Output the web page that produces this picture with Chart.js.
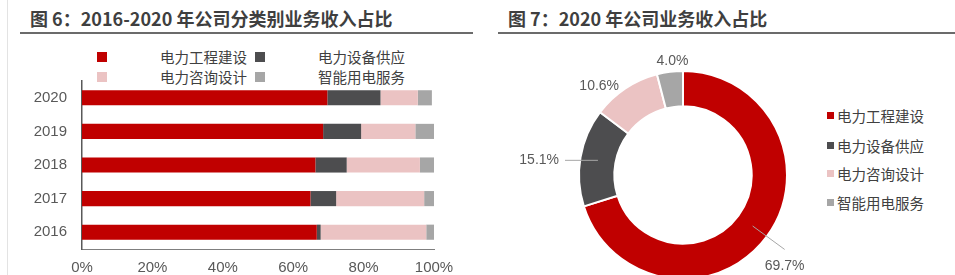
<!DOCTYPE html>
<html>
<head>
<meta charset="utf-8">
<script src="https://cdn.jsdelivr.net/npm/chart.js@4.4.1/dist/chart.umd.min.js"></script>
<style>
  html, body { margin:0; padding:0; width:955px; height:275px; overflow:hidden; background:#fff; }
  body { position:relative; font-family:"Noto Sans CJK SC","Liberation Sans",sans-serif; color:#404040; }
  .title { position:absolute; top:5px; font-size:18px; font-weight:bold; color:#3f3f3f; white-space:nowrap; line-height:26px; }
  .rule { position:absolute; top:32px; height:2px; background:#6b6b6b; }
  .vline { position:absolute; left:7px; top:0; width:1px; height:275px; background:#e3e3e3; }
  .lg { position:absolute; font-size:14.5px; color:#404040; white-space:nowrap; line-height:18px; }
  .sq { position:absolute; }
  #boxBar { position:absolute; left:0; top:80px; width:480px; height:195px; }
  #boxPie { position:absolute; left:520px; top:40px; width:326px; height:240px; }
</style>
</head>
<body>
<div class="vline"></div>
<div class="title" style="left:30px;">图 6：2016-2020 年公司分类别业务收入占比</div>
<div class="rule" style="left:20px;width:453px;"></div>
<div class="title" style="left:508px;">图 7：2020 年公司业务收入占比</div>
<div class="rule" style="left:498px;width:457px;"></div>

<div id="legBar"></div>
<div id="legPie"></div>

<div id="boxBar"><canvas id="canvas_bar"></canvas></div>
<div id="boxPie"><canvas id="canvas_pie"></canvas></div>

<script>
// ---- data ----
var years = ['2016', '2017', '2018', '2019', '2020'];
var seriesNames = ['电力工程建设', '电力设备供应', '电力咨询设计', '智能用电服务'];
var engineering = [66.7, 64.9, 66.3, 68.5, 69.7];
var equipment   = [1.1, 7.3, 8.9, 10.8, 15.1];
var consulting  = [30.0, 25.0, 20.8, 15.4, 10.6];
var smartPower  = [2.2, 2.8, 4.0, 5.3, 4.0];
var share2020   = [69.7, 15.1, 10.6, 4.0];
var xTicks = [0, 20, 40, 60, 80, 100];

var colors = ['#C00000', '#4D4D4F', '#EBC3C3', '#A6A6A6'];
var txt = '#595959';

// ---- legends (html) ----
var legBar = document.getElementById('legBar');
var legPos = [[97, 52, 160, 48], [255, 52, 318, 48], [97, 72, 160, 68], [255, 72, 318, 68]];
for (var i in seriesNames) {
  var p = legPos[i];
  legBar.innerHTML += '<div class="sq" style="left:' + p[0] + 'px;top:' + p[1] + 'px;width:10px;height:10px;background:' + colors[i] + '"></div>' +
    '<div class="lg" style="left:' + p[2] + 'px;top:' + p[3] + 'px">' + seriesNames[i] + '</div>';
}
var legPie = document.getElementById('legPie');
var pieRows = [116, 146, 174, 203];
for (var j in seriesNames) {
  legPie.innerHTML += '<div class="sq" style="left:827px;top:' + (pieRows[j] - 4) + 'px;width:7px;height:7px;background:' + colors[j] + '"></div>' +
    '<div class="lg" style="left:837px;top:' + (pieRows[j] - 9) + 'px">' + seriesNames[j] + '</div>';
}

// ---- stacked bar ----
var barSeries = [engineering, equipment, consulting, smartPower];
var barSets = [];
for (var k in barSeries) {
  barSets.push({
    label: seriesNames[k],
    data: barSeries[k],
    backgroundColor: colors[k],
    borderWidth: 0,
    barPercentage: 0.45,
    categoryPercentage: 1.0
  });
}

var configBar = {
  type: 'bar',
  data: { labels: years, datasets: barSets },
  options: {
    indexAxis: 'y',
    responsive: true,
    maintainAspectRatio: false,
    animation: false,
    layout: { padding: { top: 1, right: 46, left: 0, bottom: 0 } },
    plugins: { legend: { display: false }, tooltip: { enabled: false } },
    scales: {
      x: {
        stacked: true,
        min: 0, max: 100,
        afterBuildTicks: function (s) { s.ticks = xTicks.map(function (v) { return { value: v }; }); },
        afterFit: function (s) { s.height = 26; },
        grid: { display: false, drawTicks: false },
        border: { display: true, color: '#7f7f7f', width: 1 },
        ticks: { padding: 10, color: txt, font: { family: 'Liberation Sans', size: 15 },
                 callback: function (v) { return v + '%'; }, maxRotation: 0 }
      },
      y: {
        stacked: true,
        reverse: true,
        afterFit: function (s) { s.width = 82; s.paddingTop = 0; s.paddingBottom = 0; },
        grid: { display: false, drawTicks: false },
        border: { display: true, color: '#595959', width: 1.5 },
        ticks: { padding: 15, color: txt, font: { family: 'Liberation Sans', size: 15 } }
      }
    }
  }
};
new Chart(document.getElementById('canvas_bar').getContext('2d'), configBar);

// ---- doughnut labels ----
var sliceLabels = {
  id: 'sliceLabels',
  afterDatasetsDraw: function (chart, args, opts) {
    var ctx = chart.ctx;
    var meta = chart.getDatasetMeta(0);
    var vals = chart.data.datasets[0].data;
    ctx.save();
    ctx.font = '14px "Liberation Sans"';
    ctx.fillStyle = txt;
    ctx.strokeStyle = '#A6A6A6';
    ctx.lineWidth = 1;
    meta.data.forEach(function (arc, i) {
      var a = arc.getProps(['x', 'y', 'startAngle', 'endAngle', 'innerRadius', 'outerRadius'], true);
      var mid = (a.startAngle + a.endAngle) / 2;
      var rm = (a.innerRadius + a.outerRadius) / 2;
      var pl = opts.place[i];
      var label = vals[i].toFixed(1) + '%';
      var sx = a.x + rm * Math.cos(mid), sy = a.y + rm * Math.sin(mid);
      if (pl.line === 'diag') {
        var ex = a.x + pl.r * Math.cos(mid), ey = a.y + pl.r * Math.sin(mid);
        ctx.beginPath(); ctx.moveTo(sx, sy); ctx.lineTo(ex, ey); ctx.stroke();
        ctx.textAlign = 'center'; ctx.textBaseline = 'middle';
        ctx.fillText(label, ex + pl.dx, ey + pl.dy);
      } else if (pl.line === 'h') {
        var hx = a.x + pl.x;
        ctx.beginPath(); ctx.moveTo(sx, sy); ctx.lineTo(hx, sy); ctx.stroke();
        ctx.textAlign = 'right'; ctx.textBaseline = 'middle';
        ctx.fillText(label, hx - 6, sy);
      } else {
        ctx.textAlign = 'center'; ctx.textBaseline = 'middle';
        ctx.fillText(label, a.x + pl.r * Math.cos(mid) + pl.dx, a.y + pl.r * Math.sin(mid) + pl.dy);
      }
    });
    ctx.restore();
  }
};

var configPie = {
  type: 'doughnut',
  data: {
    labels: seriesNames,
    datasets: [{
      data: share2020,
      backgroundColor: colors,
      borderColor: '#ffffff',
      borderWidth: 2
    }]
  },
  options: {
    responsive: true,
    maintainAspectRatio: false,
    animation: false,
    radius: 104,
    cutout: 68,
    layout: { padding: { top: 31, bottom: 1, left: 0, right: 0 } },
    plugins: {
      legend: { display: false },
      tooltip: { enabled: false },
      sliceLabels: {
        place: [
          { line: 'diag', r: 126, dx: 0, dy: 17 },
          { line: 'h', x: -118 },
          { r: 115, dx: -20, dy: 7 },
          { r: 115, dx: 4, dy: 0 }
        ]
      }
    }
  },
  plugins: [sliceLabels]
};
new Chart(document.getElementById('canvas_pie').getContext('2d'), configPie);
</script>
</body>
</html>
